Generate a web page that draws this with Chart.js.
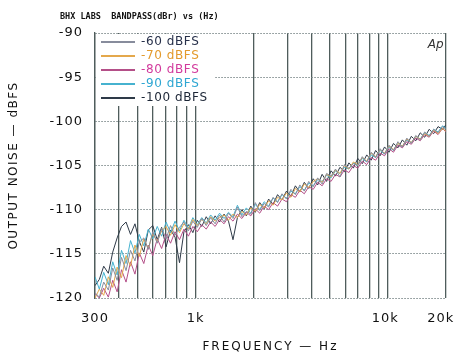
<!DOCTYPE html>
<html><head><meta charset="utf-8">
<script src="https://cdn.jsdelivr.net/npm/chart.js@4/dist/chart.umd.min.js"></script>
<style>html,body{margin:0;padding:0;background:#fff}#w{width:475px;height:354px}</style>
</head><body><div id="w"><canvas id="c"></canvas></div>
<script>
const freqs = [300,316,333,352,371,391,412,435,459,484,
510,538,568,599,632,666,703,741,782,825,
870,918,968,1021,1077,1136,1198,1264,1333,1406,
1483,1565,1650,1741,1836,1937,2043,2155,2273,2398,
2529,2668,2814,2968,3131,3303,3484,3675,3876,4089,
4313,4549,4799,5062,5339,5632,5941,6267,6610,6973,
7355,7758,8184,8632,9106,9605,10131,10687,11273,11891,
12543,13231,13957,14722,15530,16381,17280,18227,19227,20000];

const seriesNames = ['-60 dBFS','-70 dBFS','-80 dBFS','-90 dBFS','-100 dBFS'];

const s60 = [-119.4,-119.9,-118.2,-119.1,-116.6,-118.0,-115.4,-116.9,-114.6,-115.8,
-113.7,-113.2,-114.5,-112.5,-113.8,-112.1,-113.3,-111.8,-112.9,-112.0,
-111.4,-112.4,-111.3,-112.0,-111.0,-111.8,-110.9,-111.6,-110.6,-111.4,
-110.4,-111.0,-109.7,-110.8,-110.2,-110.5,-109.2,-110.1,-109.3,-109.7,
-108.6,-109.2,-108.2,-108.8,-107.7,-108.3,-107.2,-107.9,-106.8,-107.4,
-106.4,-107.1,-105.9,-106.2,-105.4,-106.3,-104.9,-105.3,-104.8,-105.0,
-104.0,-104.6,-103.5,-104.1,-103.1,-103.7,-102.7,-103.3,-102.3,-102.9,
-101.9,-102.5,-101.6,-102.1,-101.2,-101.7,-100.9,-101.3,-100.6,-100.9];

const s70 = [-120.0,-119.0,-119.7,-117.6,-118.8,-116.5,-117.7,-115.2,-116.4,-114.0,
-115.3,-113.3,-114.4,-112.7,-113.6,-112.4,-111.9,-112.9,-111.7,-112.6,
-111.6,-112.2,-111.1,-111.8,-111.1,-111.6,-110.8,-111.3,-110.9,-110.6,
-111.2,-110.5,-110.9,-110.2,-110.6,-109.8,-110.2,-109.4,-109.8,-109.0,
-109.5,-108.6,-108.9,-108.1,-108.6,-107.6,-108.0,-107.1,-107.5,-106.8,
-106.5,-106.9,-106.0,-106.3,-105.5,-105.9,-105.0,-105.4,-104.6,-104.9,
-104.1,-104.5,-103.6,-104.0,-103.2,-103.6,-102.8,-103.2,-102.5,-102.8,
-102.0,-102.4,-101.7,-102.0,-101.4,-101.7,-101.0,-101.4,-100.8,-101.1];

const s80 = [-119.5,-120.0,-118.9,-119.9,-118.0,-119.3,-116.8,-118.2,-115.9,-117.3,
-114.9,-116.1,-114.0,-115.2,-113.3,-114.4,-112.8,-113.8,-112.5,-113.4,
-112.2,-113.0,-111.9,-112.5,-111.7,-112.2,-111.4,-111.9,-111.1,-111.6,
-110.8,-111.3,-110.5,-111.0,-110.3,-110.7,-109.9,-110.4,-109.6,-110.0,
-109.2,-109.6,-108.8,-109.1,-108.3,-108.6,-107.8,-108.2,-107.4,-107.7,
-106.9,-107.3,-106.5,-106.8,-106.0,-106.3,-105.5,-105.8,-105.0,-105.3,
-104.5,-104.9,-104.1,-104.4,-103.6,-103.9,-103.1,-103.5,-102.7,-103.0,
-102.3,-102.6,-101.9,-102.2,-101.5,-101.8,-101.1,-101.5,-100.8,-101.2];

const s90 = [-117.6,-119.0,-117.1,-118.5,-115.9,-117.4,-114.6,-116.1,-113.5,-114.9,
-112.8,-114.1,-112.2,-113.3,-111.9,-113.0,-111.4,-112.6,-111.3,-112.4,
-111.2,-112.1,-110.9,-111.7,-110.9,-111.5,-110.6,-111.2,-110.4,-111.0,
-110.3,-110.8,-109.5,-110.6,-109.8,-110.4,-109.4,-110.0,-109.1,-109.6,
-108.7,-109.1,-108.3,-108.7,-107.9,-108.2,-107.4,-107.8,-107.0,-107.3,
-106.6,-106.8,-106.1,-106.4,-105.6,-105.9,-105.2,-105.4,-104.7,-105.0,
-104.2,-104.6,-103.8,-104.1,-103.3,-103.7,-102.9,-103.3,-102.5,-102.9,
-102.1,-102.4,-101.7,-102.0,-101.3,-101.6,-100.9,-101.2,-100.5,-100.8];

const s100 = [-118.6,-117.9,-116.4,-117.2,-114.8,-113.2,-111.9,-111.4,-112.8,-111.6,
-113.6,-114.8,-112.3,-111.8,-113.4,-112.0,-114.2,-112.3,-113.1,-116.0,
-112.5,-111.7,-112.6,-111.2,-111.9,-110.8,-111.6,-110.7,-111.4,-110.5,
-111.3,-113.4,-110.9,-110.0,-110.7,-109.6,-110.3,-109.2,-109.9,-108.8,
-109.4,-108.3,-108.9,-107.9,-108.5,-107.3,-108.0,-106.9,-107.6,-106.5,
-107.2,-106.0,-106.8,-105.6,-106.2,-105.2,-105.7,-104.7,-105.3,-104.2,
-104.8,-103.8,-104.4,-103.3,-103.9,-102.9,-103.5,-102.5,-103.0,-102.1,
-102.7,-101.7,-102.2,-101.3,-101.8,-100.9,-101.4,-100.6,-100.9,-100.4];

const xTickValues = [300,400,500,600,700,800,900,1000,2000,3000,4000,5000,6000,7000,8000,9000,10000,20000];
const xTickLabels = {300:'300',1000:'1k',10000:'10k ',20000:'20k  '};
const yTicks = [-120,-115,-110,-105,-100,-95,-90];

const lineColors = ['#878c9c','#e4a84c','#b44f88','#46b2cf','#2e3a48'];
const textColors = ['#27304a','#e39a2c','#d23a9c','#2ea6d2','#1c2636'];

const allSeries = [s60,s70,s80,s90,s100];
const datasets = allSeries.map((s,i)=>({
  label: seriesNames[i],
  data: freqs.map((f,j)=>({x:f,y:s[j]})),
  borderColor: lineColors[i],
  backgroundColor: lineColors[i],
  borderWidth: 1,
  pointRadius: 0,
  tension: 0
}));

const FONT = "'DejaVu Sans', sans-serif";

const spacingPlugin = {
  id:'spacing',
  afterLayout(chart){
    const L = chart.legend, ca = chart.chartArea;
    if (L){
      const w = L.width, h = L.height;
      L.left = ca.left + 4; L.top = ca.top + 1;
      L.right = L.left + w; L.bottom = L.top + h;
      if (!L._patched){
        const od = L.draw;
        L.draw = function(){
          const c = this.ctx, a = this.chart.chartArea;
          c.save(); c.fillStyle = '#fff';
          c.fillRect(a.left + 1, a.top + 1, 118, 72);
          c.letterSpacing = '0.6px';
          od.apply(this, arguments);
          c.restore();
        };
        L._patched = true;
      }
    }
  },
  beforeDraw(chart){
    const setups = {x:{t:'2px',l:'1px'}, y:{t:'1.5px',l:'1px'}};
    for (const id of ['x','y']){
      const sc = chart.scales[id];
      if (!sc || sc._patched) continue;
      const ot = sc.drawTitle, ol = sc.drawLabels;
      sc.drawTitle = function(){ const c=this.ctx; c.save(); c.letterSpacing=setups[id].t; ot.apply(this,arguments); c.restore(); };
      sc.drawLabels = function(){ const c=this.ctx; c.save(); c.letterSpacing=setups[id].l; ol.apply(this,arguments); c.restore(); };
      sc._patched = true;
    }
  },
  afterDraw(chart){
    const c = chart.ctx;
    c.save();
    c.fillStyle = '#111';
    c.font = "bold 8.5px 'DejaVu Sans Mono', monospace";
    c.textBaseline = 'alphabetic';
    c.fillText('BHX LABS  BANDPASS(dBr) vs (Hz)', 60, 19);
    c.font = "italic 12px " + FONT;
    c.fillStyle = '#333';
    c.fillText('Ap', chart.chartArea.right - 18, chart.chartArea.top + 15);
    c.restore();
  }
};

new Chart(document.getElementById('c'), {
  type:'line',
  data:{datasets},
  options:{
    responsive:true, maintainAspectRatio:false, animation:false,
    layout:{padding:{top:33,right:19,left:0,bottom:0}},
    plugins:{
      legend:{
        position:'chartArea', align:'start',
        labels:{
          boxWidth:34, boxHeight:2, padding:2,
          font:{family:FONT,size:12},
          generateLabels(chart){
            const items = Chart.defaults.plugins.legend.labels.generateLabels(chart);
            items.forEach((it,i)=>{ it.fontColor = textColors[i]; it.fillStyle = lineColors[i]; it.strokeStyle = lineColors[i]; it.lineWidth = 0; });
            return items;
          }
        }
      },
      tooltip:{enabled:false}
    },
    scales:{
      x:{
        type:'logarithmic', min:300, max:20000,
        afterBuildTicks(scale){ scale.ticks = xTickValues.map(v=>({value:v})); },
        afterFit(scale){ scale.height = 56; },
        ticks:{autoSkip:false, maxRotation:0, minRotation:0, padding:13, color:'#111',
          font:{family:FONT,size:13},
          callback(v){ return xTickLabels[v] || ''; }},
        grid:{color:'#4f5d5c', lineWidth:1.3, drawTicks:false},
        border:{display:false},
        title:{display:true, text:'FREQUENCY — Hz', color:'#111', font:{family:FONT,size:12}, padding:{top:0,bottom:0}}
      },
      y:{
        min:-120, max:-90,
        afterBuildTicks(scale){ scale.ticks = yTicks.map(v=>({value:v})); },
        afterFit(scale){ scale.width = 95; },
        ticks:{padding:12, color:'#111', font:{family:FONT,size:13}},
        grid:{color:'#7d898b', lineWidth:1, drawTicks:false},
        border:{display:true, color:'#4f5d5c', width:1.3, dash:[1.5,1.5]},
        title:{display:true, text:'OUTPUT NOISE — dBFS', color:'#111', font:{family:FONT,size:12}, padding:{top:7,bottom:0}}
      }
    }
  },
  plugins:[spacingPlugin]
});
</script>
</body></html>
